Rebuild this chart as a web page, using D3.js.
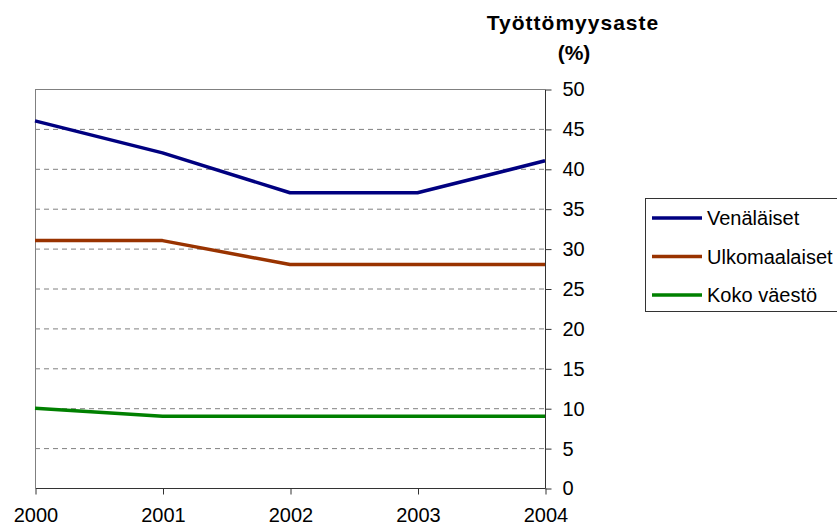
<!DOCTYPE html>
<html><head><meta charset="utf-8">
<script src="https://cdn.jsdelivr.net/npm/d3@7"></script>
<style>body{margin:0;background:#fff}svg{display:block;font-family:"Liberation Sans",Arial,sans-serif}</style>
</head><body>
<svg id="c" width="837" height="526"></svg>
<script>
const years = ["2000","2001","2002","2003","2004"];
const venalaiset = [46,42,37,37,41];
const ulkomaalaiset = [31,31,28,28,28];
const kokoVaesto = [10,9,9,9,9];
const seriesNames = ["Venäläiset","Ulkomaalaiset","Koko väestö"];
const seriesColors = ["#000080","#993300","#008000"];
const yTicks = [0,5,10,15,20,25,30,35,40,45,50];
const series = [venalaiset, ulkomaalaiset, kokoVaesto];

const svg = d3.select("#c");
const L=35,R=545,T=89,B=488;
const FONT = "Liberation Sans, Arial, sans-serif";
const x = d3.scalePoint().domain(years).range([L,R]);
const y = d3.scaleLinear().domain([0,50]).range([B,T]);

// gridlines
svg.append("g").selectAll("line").data(yTicks.filter(d=>d>0&&d<50)).join("line")
  .attr("x1",L).attr("x2",R).attr("y1",d=>y(d)+0.5).attr("y2",d=>y(d)+0.5)
  .attr("stroke","#808080").attr("stroke-width",1).attr("stroke-dasharray","5,4");
// plot border top/left
svg.append("line").attr("x1",L).attr("x2",R).attr("y1",T+0.5).attr("y2",T+0.5).attr("stroke","#808080");
svg.append("line").attr("x1",L+0.5).attr("x2",L+0.5).attr("y1",T).attr("y2",B).attr("stroke","#808080");

// right y axis
const ya = svg.append("g").attr("transform",`translate(${R+0.5},0.5)`)
  .call(d3.axisRight(y).tickValues(yTicks).tickSize(6).tickPadding(11));
ya.attr("font-size",20).attr("font-family",FONT);
ya.select(".domain").attr("stroke","#333").attr("d",`M0,${T}V${B}`);
ya.selectAll(".tick line").attr("stroke","#333");
ya.selectAll("text").attr("fill","#000");

// bottom x axis
const xa = svg.append("g").attr("transform",`translate(0.5,${B+0.5})`)
  .call(d3.axisBottom(x).tickSize(6).tickPadding(13));
xa.attr("font-size",20).attr("font-family",FONT);
xa.select(".domain").attr("stroke","#333").attr("d",`M${L},0H${R}`);
xa.selectAll(".tick line").attr("stroke","#333");
xa.selectAll("text").attr("fill","#000");

// lines
const line = d3.line().x((d,i)=>x(years[i])).y(d=>y(d));
series.forEach((s,k)=>{
  svg.append("path").datum(s).attr("d",line).attr("fill","none")
    .attr("stroke",seriesColors[k]).attr("stroke-width",3.5).attr("stroke-linejoin","round");
});

// title
svg.append("text").attr("x",573).attr("y",30).attr("text-anchor","middle")
  .attr("font-weight","bold").attr("font-size",21).attr("letter-spacing",1).text("Työttömyysaste");
svg.append("text").attr("x",574).attr("y",60).attr("text-anchor","middle")
  .attr("font-weight","bold").attr("font-size",21).text("(%)");

// legend
const lg = svg.append("g");
lg.append("rect").attr("x",645.5).attr("y",198.5).attr("width",200).attr("height",113)
  .attr("fill","#fff").attr("stroke","#333");
seriesNames.forEach((n,i)=>{
  const yy = 218 + i*38.5;
  lg.append("line").attr("x1",652).attr("x2",702).attr("y1",yy).attr("y2",yy)
    .attr("stroke",seriesColors[i]).attr("stroke-width",3.5);
  lg.append("text").attr("x",707).attr("y",yy+7).attr("font-size",20).text(n);
});
</script>
</body></html>
